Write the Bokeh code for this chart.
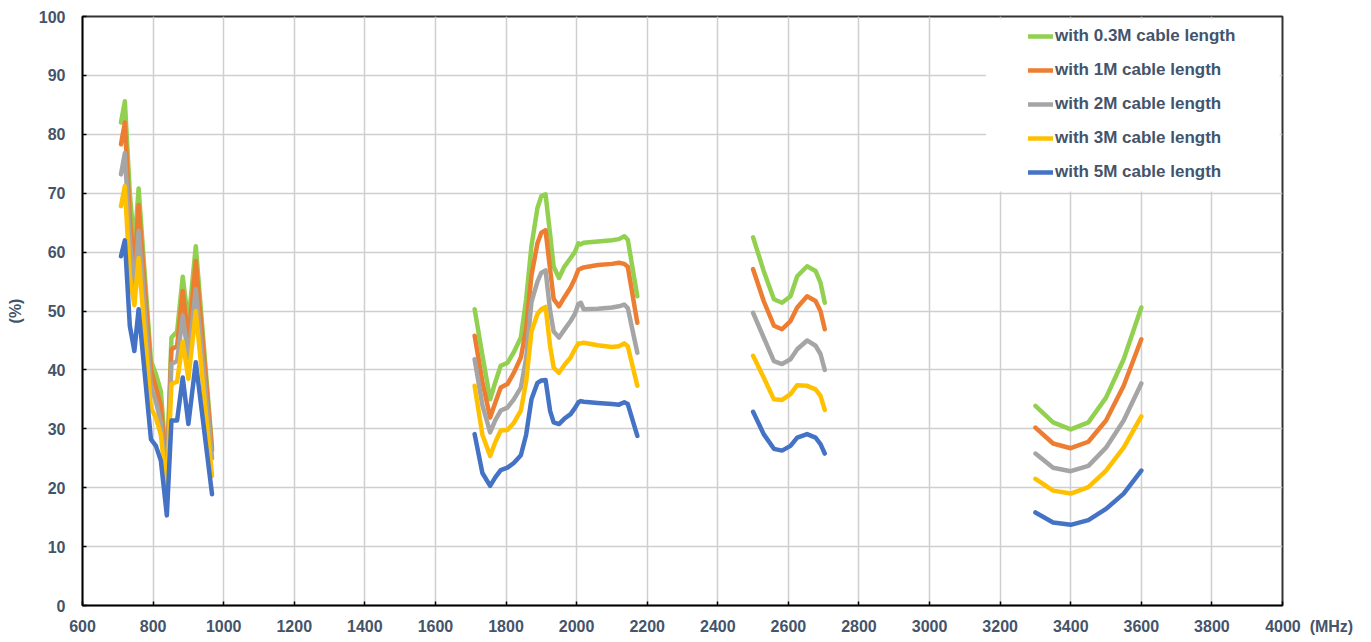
import math
from bokeh.plotting import figure
from bokeh.models import Range1d, Legend, LegendItem, BoxAnnotation, FixedTicker
from bokeh.embed import file_html
from bokeh.resources import INLINE

# ---------------- data ----------------
series_labels = ["with 0.3M cable length", "with 1M cable length", "with 2M cable length",
                 "with 3M cable length", "with 5M cable length"]
series_colors = ["#92D050", "#ED7D31", "#A5A5A5", "#FFC000", "#4472C4"]

x_ticks = list(range(600, 4001, 200))
y_ticks = list(range(0, 101, 10))
x_unit = "(MHz)"
y_unit = "(%)"

low_freq = [709, 720, 734, 747, 759, 794, 808, 822, 839, 852, 868, 884, 900, 921, 967]
low_03m = [82.0, 85.6, 70.0, 61.0, 70.8, 41.5, 39.3, 36.4, 23.0, 45.5, 46.5, 55.8, 48.0, 61.0, 26.8]
low_1m = [78.3, 82.0, 66.0, 57.0, 68.0, 40.0, 37.0, 34.0, 22.0, 43.5, 44.0, 53.4, 45.0, 58.5, 26.3]
low_2m = [73.2, 76.8, 62.0, 54.0, 63.6, 37.0, 34.7, 31.0, 21.0, 41.0, 41.5, 49.2, 42.0, 53.7, 25.0]
low_3m = [67.8, 71.2, 56.0, 51.0, 59.0, 33.5, 31.9, 29.0, 19.5, 37.6, 38.0, 44.8, 38.5, 50.0, 22.0]
low_5m = [59.3, 62.0, 47.5, 43.2, 50.3, 28.2, 27.1, 24.6, 15.3, 31.4, 31.4, 38.7, 30.8, 41.3, 18.9]

mid_freq = [1711, 1733, 1755, 1770, 1785, 1804, 1822, 1842, 1857, 1872, 1889, 1900, 1912, 1925,
            1935, 1950, 1965, 1983, 1995, 2005, 2012, 2020, 2060, 2100, 2120, 2135, 2145, 2172]
mid_03m = [50.3, 42.5, 35.0, 38.0, 40.7, 41.2, 43.0, 45.5, 52.0, 61.0, 67.5, 69.5, 69.8, 63.0,
           57.5, 55.6, 57.5, 59.0, 60.0, 61.5, 61.3, 61.6, 61.8, 62.0, 62.2, 62.7, 62.1, 52.5]
mid_1m = [45.8, 38.0, 31.9, 34.5, 37.0, 37.6, 39.5, 42.1, 47.0, 56.0, 61.5, 63.3, 63.7, 57.0,
          52.0, 50.8, 52.3, 54.0, 55.5, 57.0, 57.2, 57.4, 57.8, 58.0, 58.2, 58.0, 57.5, 48.0]
mid_2m = [41.8, 34.0, 29.4, 31.5, 33.1, 33.6, 35.0, 37.0, 42.0, 51.5, 55.0, 56.5, 56.9, 50.0,
          46.5, 45.5, 46.8, 48.3, 49.5, 51.2, 51.4, 50.3, 50.4, 50.6, 50.8, 51.1, 50.5, 42.9]
mid_3m = [37.3, 29.0, 25.4, 27.8, 29.7, 29.8, 31.0, 33.1, 38.0, 46.5, 49.5, 50.3, 50.7, 44.0,
          40.4, 39.5, 40.8, 42.1, 43.5, 44.5, 44.5, 44.6, 44.2, 43.9, 44.0, 44.5, 44.0, 37.3]
mid_5m = [29.1, 22.5, 20.3, 21.8, 23.0, 23.4, 24.2, 25.5, 29.0, 35.0, 37.8, 38.2, 38.3, 33.0,
          31.1, 30.8, 31.7, 32.5, 33.5, 34.5, 34.7, 34.6, 34.4, 34.2, 34.1, 34.5, 34.2, 28.8]

b3_freq = [2500, 2530, 2559, 2582, 2606, 2625, 2653, 2677, 2691, 2703]
b3_03m = [62.5, 56.8, 52.0, 51.4, 52.5, 55.9, 57.6, 56.8, 54.8, 51.4]
b3_1m = [57.1, 51.7, 47.5, 46.9, 48.3, 50.6, 52.5, 51.7, 50.0, 46.9]
b3_2m = [49.7, 45.5, 41.5, 41.0, 41.8, 43.5, 45.0, 44.1, 42.7, 40.0]
b3_3m = [42.4, 38.7, 35.0, 34.9, 35.9, 37.4, 37.3, 36.7, 35.6, 33.2]
b3_5m = [32.9, 29.1, 26.6, 26.3, 27.1, 28.5, 29.1, 28.5, 27.4, 25.8]

b4_freq = [3300, 3350, 3400, 3450, 3500, 3550, 3600]
b4_03m = [33.9, 31.1, 29.9, 31.1, 35.3, 41.8, 50.6]
b4_1m = [30.2, 27.5, 26.7, 27.8, 31.4, 37.3, 45.2]
b4_2m = [25.8, 23.4, 22.8, 23.7, 26.8, 31.4, 37.7]
b4_3m = [21.5, 19.5, 19.0, 20.1, 22.9, 26.8, 32.1]
b4_5m = [15.8, 14.1, 13.7, 14.5, 16.4, 19.0, 22.9]

bands_freq = [low_freq, mid_freq, b3_freq, b4_freq]
series_values = [
    [low_03m, mid_03m, b3_03m, b4_03m],
    [low_1m, mid_1m, b3_1m, b4_1m],
    [low_2m, mid_2m, b3_2m, b4_2m],
    [low_3m, mid_3m, b3_3m, b4_3m],
    [low_5m, mid_5m, b3_5m, b4_5m],
]

# ---------------- figure ----------------
TEXT = "#44546A"
FONT = "Liberation Sans"
NB = "\u00a0"

p = figure(width=1370, height=640, x_range=Range1d(600, 4000), y_range=Range1d(0, 100),
           output_backend="svg", toolbar_location=None,
           min_border_left=82, min_border_right=88, min_border_top=16, min_border_bottom=35)
p.background_fill_color = "white"
p.border_fill_color = "white"
p.outline_line_color = "#333333"
p.outline_line_width = 2

p.xaxis.ticker = FixedTicker(ticks=x_ticks)
p.yaxis.ticker = FixedTicker(ticks=y_ticks)
# last x tick carries the unit to its right (padding keeps the number centred on its tick)
p.xaxis.major_label_overrides = {x_ticks[-1]: NB * 12 + str(x_ticks[-1]) + NB * 2 + x_unit}
for ax in (p.xaxis, p.yaxis):
    ax.axis_line_color = "black"
    ax.axis_line_width = 1.5
    ax.major_tick_in = 4
    ax.major_tick_out = 0
    ax.major_tick_line_color = "black"
    ax.major_tick_line_width = 1.5
    ax.minor_tick_line_color = None
    ax.major_label_text_font = FONT
    ax.major_label_text_font_style = "bold"
    ax.major_label_text_font_size = "16px"
    ax.major_label_text_color = TEXT
p.xaxis.major_label_standoff = 12
p.yaxis.major_label_standoff = 17
p.yaxis.axis_label = y_unit
p.yaxis.axis_label_standoff = 12
p.yaxis.axis_label_text_font = FONT
p.yaxis.axis_label_text_font_style = "bold"
p.yaxis.axis_label_text_font_size = "16px"
p.yaxis.axis_label_text_color = TEXT

p.grid.grid_line_color = "#cfcfcf"
p.grid.grid_line_width = 1.5

items = []
for label, color, vals in zip(series_labels, series_colors, series_values):
    xs, ys = [], []
    for i, (f, v) in enumerate(zip(bands_freq, vals)):
        if i > 0:
            xs.append(math.nan)
            ys.append(math.nan)
        xs.extend(f)
        ys.extend(v)
    r = p.line(xs, ys, line_color=color, line_width=4.5, line_join="round", line_cap="round")
    items.append(LegendItem(label=label, renderers=[r]))

# white backdrop behind the legend (hides gridlines like the original)
p.add_layout(BoxAnnotation(left=3160, right=3992, bottom=70.3, top=99.6,
                           fill_color="white", fill_alpha=1.0, line_alpha=0))

legend = Legend(items=items, location="top_right", margin=0, padding=10, spacing=14,
                glyph_width=25, glyph_height=20, label_height=20, label_width=217,
                label_standoff=2, label_text_font=FONT, label_text_font_style="bold",
                label_text_font_size="17px", label_text_color=TEXT,
                background_fill_alpha=0, border_line_alpha=0)
p.add_layout(legend)

open("out.html", "w").write(file_html(p, INLINE))
